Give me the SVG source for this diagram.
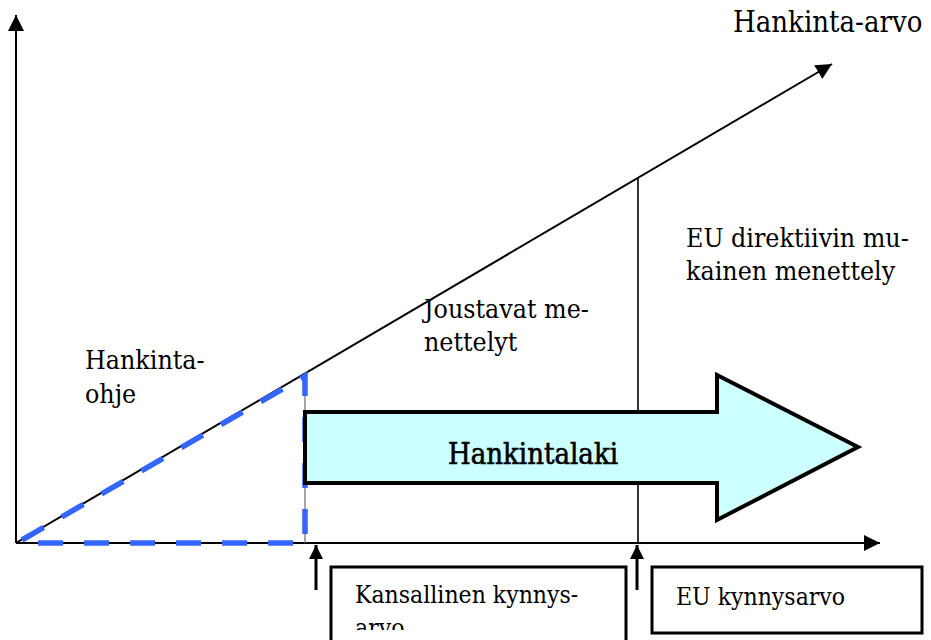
<svg xmlns="http://www.w3.org/2000/svg" width="931" height="640" viewBox="0 0 931 640">
<style>
.t{font-family:"DejaVu Serif Condensed","DejaVu Serif","Liberation Serif",serif;font-stretch:condensed;fill:#000}
.ax{stroke:#000;stroke-width:2;fill:none}
.thin{stroke:#000;stroke-width:1.6;fill:none}
.box{fill:#fff;stroke:#000;stroke-width:3}
.dash{fill:none;stroke:#3366FF;stroke-width:5.5;stroke-dasharray:25 21}
</style>
<defs>
<marker id="ah" markerUnits="userSpaceOnUse" markerWidth="16" markerHeight="16" refX="16" refY="8" orient="auto" viewBox="0 0 16 16">
<path d="M0,0 L16,8 L0,16 z" fill="#000"/>
</marker>
<marker id="sh" markerUnits="userSpaceOnUse" markerWidth="14" markerHeight="14" refX="14" refY="7" orient="auto" viewBox="0 0 14 14">
<path d="M0,0 L14,7 L0,14 z" fill="#000"/>
</marker>
<clipPath id="kclip"><rect x="331" y="567" width="295" height="63"/></clipPath>
</defs>
<g id="connectors">
<line class="ax" x1="16" y1="543" x2="16" y2="15" marker-end="url(#ah)"/>
<line class="ax" x1="16" y1="543" x2="880" y2="543" marker-end="url(#ah)"/>
<line class="ax" x1="16" y1="543" x2="832" y2="64" marker-end="url(#ah)"/>
<line class="thin" x1="638" y1="178" x2="638" y2="543"/>
<line x1="305" y1="374" x2="305" y2="543" stroke="#777" stroke-width="1.3"/>
<line x1="316" y1="590" x2="316" y2="545" stroke="#000" stroke-width="3" marker-end="url(#sh)"/>
<line x1="637" y1="590" x2="637" y2="545" stroke="#000" stroke-width="3" marker-end="url(#sh)"/>
</g>
<g id="hankintaohje-region">
<path class="dash" d="M22,540 L305,376 L305,543 L22,543"/>
</g>
<g id="hankintalaki">
<path d="M305,412 L717,412 L717,375 L858,447 L717,520 L717,483 L305,483 Z" fill="#CCFFFF" stroke="#000" stroke-width="4" stroke-linejoin="miter"/>
<text class="t" x="533" y="464" font-size="29" text-anchor="middle" stroke="#000" stroke-width="0.6">Hankintalaki</text>
</g>
<g id="label-hankinta-arvo">
<text class="t" x="733" y="32" font-size="29">Hankinta-arvo</text>
</g>
<g id="label-eu-direktiivi">
<text class="t" x="686" y="247" font-size="26.5">EU direktiivin mu-</text>
<text class="t" x="686" y="280" font-size="26.5">kainen menettely</text>
</g>
<g id="label-joustavat">
<text class="t" x="424" y="318" font-size="26.5">Joustavat me-</text>
<text class="t" x="424" y="351" font-size="26.5">nettelyt</text>
</g>
<g id="label-hankintaohje">
<text class="t" x="85" y="369" font-size="26.5">Hankinta-</text>
<text class="t" x="85" y="403" font-size="26.5">ohje</text>
</g>
<g id="box-kansallinen">
<rect class="box" x="331" y="567" width="295" height="80"/>
<g clip-path="url(#kclip)">
<text class="t" x="355" y="603" font-size="24.5">Kansallinen kynnys-</text>
<text class="t" x="355" y="636" font-size="24.5">arvo</text>
</g>
</g>
<g id="box-eu">
<rect class="box" x="652" y="567" width="270" height="66"/>
<text class="t" x="676" y="605" font-size="24.5">EU kynnysarvo</text>
</g>
</svg>
